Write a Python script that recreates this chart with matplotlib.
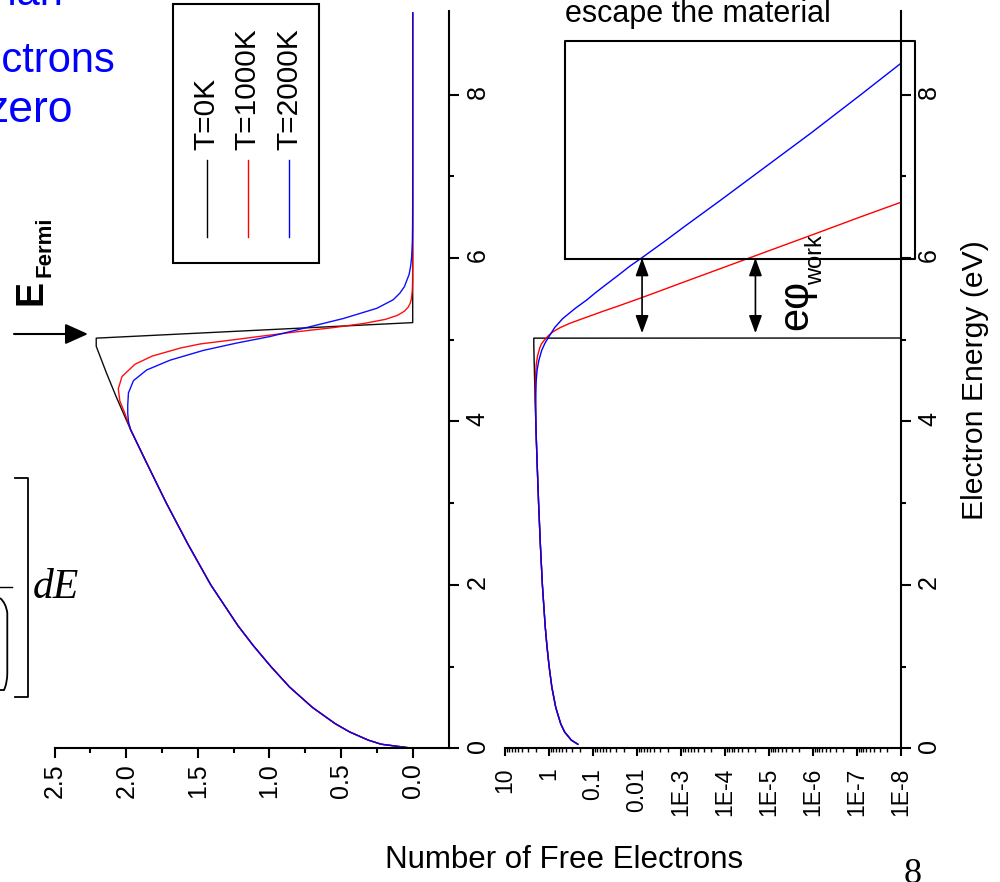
import numpy as np
import matplotlib
matplotlib.use("Agg")
import matplotlib.pyplot as plt
from matplotlib.path import Path
from matplotlib.patches import PathPatch, Rectangle

plt.rcParams['font.family'] = ['Liberation Sans', 'DejaVu Sans']

# ---------------- data ----------------
# shared low-energy part (all temperatures coincide here)
energy_common = [0.0, 0.05, 0.1, 0.2, 0.3, 0.5, 0.75, 1.0, 1.25, 1.5, 2.0, 2.5, 3.0, 3.5, 3.9]
count_common = [0.0, 0.22, 0.31, 0.44, 0.54, 0.70, 0.86, 0.99, 1.11, 1.22, 1.41, 1.57, 1.72, 1.86, 1.97]

# T = 0 K upper part
energy_T0_top = [4.3, 4.6, 4.92, 5.02, 5.21, 9.0]
count_T0_top = [2.07, 2.14, 2.21, 2.21, 0.0, 0.0]

# T = 1000 K upper part
energy_T1000_top = [4.1, 4.25, 4.4, 4.55, 4.7, 4.8, 4.9, 4.95, 5.0, 5.05, 5.1, 5.15,
                    5.2, 5.25, 5.3, 5.35, 5.4, 5.45, 5.5, 5.6, 5.7, 5.85, 6.0, 6.3,
                    6.5, 6.7, 7.5, 9.0]
count_T1000_top = [2.01, 2.045, 2.056, 2.03, 1.94, 1.82, 1.62, 1.48, 1.25, 1.03, 0.80, 0.55,
                   0.34, 0.19, 0.105, 0.058, 0.031, 0.017, 0.0093, 0.0029, 9.2e-4, 1.6e-4,
                   2.8e-5, 8.5e-7, 8.5e-8, 8e-9, 0.0, 0.0]

# T = 2000 K upper part
energy_T2000_top = [4.0, 4.1, 4.2, 4.35, 4.5, 4.63, 4.75, 4.87, 4.96, 5.04, 5.15, 5.26,
                    5.385, 5.49, 5.57, 5.65, 5.8, 5.9, 6.0, 6.2, 6.4, 6.71, 7.1, 7.53,
                    8.0, 8.38, 8.5, 9.0]
count_T2000_top = [1.985, 1.99, 1.99, 1.985, 1.95, 1.858, 1.695, 1.462, 1.229, 0.996, 0.74,
                   0.485, 0.251, 0.136, 0.090, 0.058, 0.025, 0.0145, 7.85e-3, 2.4e-3,
                   7.6e-4, 1.23e-4, 1.3e-5, 1.09e-6, 8e-8, 1.0e-8, 5e-9, 0.0]

series_labels = ["T=0K", "T=1000K", "T=2000K"]
series_colors = ["black", "#FF0000", "#0000FF"]

linear_ticks = [2.5, 2.0, 1.5, 1.0, 0.5, 0.0]
linear_tick_labels = ["2.5", "2.0", "1.5", "1.0", "0.5", "0.0"]
log_ticks = [10, 1, 0.1, 0.01, 1e-3, 1e-4, 1e-5, 1e-6, 1e-7, 1e-8]
log_tick_labels = ["10", "1", "0.1", "0.01", "1E-3", "1E-4", "1E-5", "1E-6", "1E-7", "1E-8"]
energy_ticks = [0, 2, 4, 6, 8]
energy_tick_labels = ["0", "2", "4", "6", "8"]

work_level = 6.0          # escape level (eV)
arrow_bottom = 5.08       # lower end of the work-function arrows
arrow_counts = [7.6e-3, 2.0e-5]
escape_box_counts = [0.427, 4.8e-9]
escape_box_energy = [5.993, 8.657]

# ---------------- assemble curves ----------------
E0 = np.array(energy_common + energy_T0_top)
N0 = np.array(count_common + count_T0_top)
E1 = np.array(energy_common + energy_T1000_top)
N1 = np.array(count_common + count_T1000_top)
E2 = np.array(energy_common + energy_T2000_top)
N2 = np.array(count_common + count_T2000_top)
curves = [(E0, N0), (E1, N1), (E2, N2)]

W, H = 1000, 882
fig = plt.figure(figsize=(W / 100, H / 100), dpi=100)

ax_bottom = 1 - 748.3 / H
ax_height = (748.3 - 11) / H
axL = fig.add_axes([54.7 / W, ax_bottom, (449 - 54.7) / W, ax_height])
axR = fig.add_axes([505 / W, ax_bottom, (900.5 - 505) / W, ax_height])

for ax in (axL, axR):
    for s in ("left", "top"):
        ax.spines[s].set_visible(False)
    for s in ("bottom", "right"):
        ax.spines[s].set_linewidth(1.5)
    ax.set_ylim(0, 9.024)
    ax.yaxis.tick_right()
    ax.set_yticks(energy_ticks)
    ax.set_yticklabels(energy_tick_labels)
    ax.set_yticks([1, 3, 5, 7], minor=True)
    ax.tick_params(axis='y', which='major', direction='out', length=7, width=1.5,
                   labelsize=18, labelrotation=90, pad=5)
    ax.tick_params(axis='y', which='minor', direction='out', length=3.5, width=1.5)
    ax.patch.set_visible(False)

# left: linear panel
for (E, N), c in zip(curves, series_colors):
    axL.plot(N, E, color=c, lw=1.0, alpha=0.95)
axL.set_xlim(2.5, -0.2535)
axL.set_xticks(linear_ticks)
axL.set_xticklabels(linear_tick_labels)
axL.set_xticks([2.25, 1.75, 1.25, 0.75, 0.25], minor=True)
axL.tick_params(axis='x', which='major', direction='out', length=7, width=1.5,
                labelsize=18, labelrotation=90, pad=4)
axL.tick_params(axis='x', which='minor', direction='out', length=3.5, width=1.5)

# right: logarithmic panel
axR.set_xscale('log')
for (E, N), c in zip(curves, series_colors):
    axR.plot(N[1:], E[1:], color=c, lw=1.0)
axR.set_xlim(10, 1e-8)
axR.xaxis.set_major_locator(matplotlib.ticker.FixedLocator(log_ticks))
axR.xaxis.set_major_formatter(matplotlib.ticker.FixedFormatter(log_tick_labels))
axR.xaxis.set_minor_locator(matplotlib.ticker.LogLocator(base=10, subs=np.arange(2, 10), numticks=30))
axR.xaxis.set_minor_formatter(matplotlib.ticker.NullFormatter())
axR.tick_params(axis='x', which='major', direction='out', length=6, width=1.5,
                labelsize=16.5, labelrotation=90, pad=8)
axR.tick_params(axis='x', which='minor', direction='out', length=3, width=1.0)

# escape box and work-function arrows
bx0, bx1 = escape_box_counts
by0, by1 = escape_box_energy
axR.plot([bx0, bx1, bx1, bx0, bx0], [by0, by0, by1, by1, by0], color='black', lw=1.5,
         clip_on=False, zorder=3)
for n in arrow_counts:
    axR.annotate('', xy=(n, work_level), xytext=(n, arrow_bottom),
                 arrowprops=dict(arrowstyle='<|-|>,head_length=0.9,head_width=0.33',
                                 color='black', lw=1.2, mutation_scale=12,
                                 shrinkA=0, shrinkB=0))

# axis titles
fig.text(564 / W, 1 - 868 / H, "Number of Free Electrons", fontsize=22.5,
         ha='center', va='baseline')
fig.text(975 / W, 1 - 380 / H, "Electron Energy (eV)", fontsize=21.7, rotation=90,
         ha='center', va='center')

# ---------------- overlay in pixel coordinates (slide decorations) ----------------
ov = fig.add_axes([0, 0, 1, 1], zorder=5)
ov.set_xlim(0, W)
ov.set_ylim(H, 0)
ov.axis('off')
ov.patch.set_visible(False)

# legend drawn rotated like the reference
ov.add_patch(Rectangle((173, 4), 146, 259, fill=False, lw=1.5, edgecolor='black'))
for x, lab, c in zip([206.7, 247.7, 289.0], series_labels, series_colors):
    ov.plot([x, x], [160, 237], color=c, lw=1.0)
    ov.text(x, 150, lab, rotation=90, ha='center', va='bottom', fontsize=21.5)

# blue slide text (cut at the left edge)
ov.text(63, 5, "than", color='#0000FF', fontsize=30, ha='right', va='baseline')
ov.text(115, 72, "electrons", color='#0000FF', fontsize=30, ha='right', va='baseline')
ov.text(73, 122, "zero", color='#0000FF', fontsize=32, ha='right', va='baseline')

# E_Fermi label and arrow
ov.text(31.5, 305, "E", rotation=90, fontsize=27, fontweight='bold', ha='center', va='bottom')
ov.text(45, 277, "Fermi", rotation=90, fontsize=16, fontweight='bold', ha='center', va='bottom')
ov.annotate('', xy=(88, 334), xytext=(14, 334),
            arrowprops=dict(arrowstyle='-|>,head_length=1.0,head_width=0.45',
                            color='black', lw=1.5, mutation_scale=14, shrinkA=0, shrinkB=0))

# equation fragment: bracket, dE, paren
ov.plot([15, 28, 28, 15], [478, 478, 697, 697], color='black', lw=1.3)
ov.text(33, 598, "dE", fontsize=30, fontstyle='italic', family='Liberation Serif',
        ha='left', va='baseline')
ov.plot([0, 12], [587, 587], color='black', lw=1.0)
paren = Path([(0, 598), (6, 603), (7.3, 613), (7.3, 673), (7.3, 683), (4, 690), (0, 690)],
             [Path.MOVETO, Path.CURVE3, Path.CURVE3, Path.LINETO, Path.CURVE3, Path.CURVE3, Path.LINETO])
ov.add_patch(PathPatch(paren, fill=False, lw=1.3, edgecolor='black'))

# escape text, work-function label, slide number
ov.text(565, 22, "escape the material", fontsize=22, ha='left', va='baseline')
ov.text(796, 330, "e\u03c6", rotation=90, fontsize=30, ha='center', va='bottom')
ov.text(816, 285, "work", rotation=90, fontsize=17, ha='center', va='bottom')
ov.text(913, 858, "8", fontsize=26, family='Liberation Serif', ha='center', va='top')

fig.savefig("out.png", dpi=100)
